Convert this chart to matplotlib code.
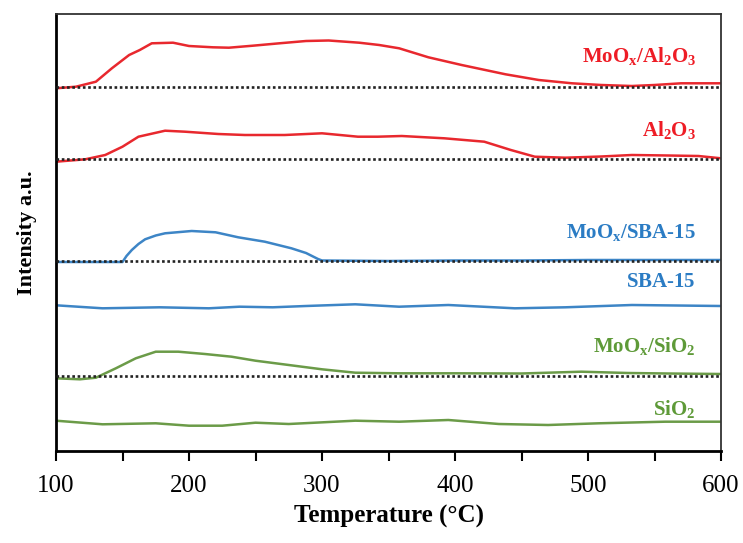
import matplotlib
matplotlib.use("Agg")
import matplotlib.pyplot as plt
from matplotlib.ticker import MultipleLocator

# === data (signal above each trace's baseline, a.u.) ===
T_mo_al = [100, 115, 130, 142, 155, 163, 172, 188, 200, 218, 230, 248, 268, 288,
           305, 328, 343, 358, 380, 405, 438, 463, 488, 510, 533, 550, 570, 600]
I_mo_al = [-1.3, 0.3, 5.3, 18.7, 32, 37, 43.7, 44.3, 41, 39.7, 39.3, 41.3, 43.7, 46,
           46.5, 44.3, 42, 38.7, 29.7, 22, 12.7, 7, 3.7, 2, 1, 2, 3.7, 3.7]

T_al = [100, 122, 137, 150, 162, 182, 197, 222, 242, 272, 300, 327, 342, 360,
        392, 422, 442, 460, 483, 510, 533, 560, 583, 600]
I_al = [-2.7, -0.3, 4, 12.3, 22.3, 28.3, 27.3, 25, 24, 24, 25.7, 22.3, 22.3, 23,
        20.7, 17.3, 9, 2.3, 1.3, 2.5, 4, 3.5, 3, 0.7]

T_mo_sba = [100, 150, 153, 157, 162, 167, 175, 182, 202, 220, 237, 257, 277, 288,
            297, 300, 350, 400, 450, 500, 550, 600]
I_mo_sba = [-1, -1, 5, 11, 17, 21.7, 25.5, 27.7, 30, 28.7, 23.7, 19.3, 12.7, 8,
            2, 0.5, 0, 0.5, 0.5, 1, 1, 1]

T_sba = [100, 135, 178, 215, 238, 263, 288, 325, 358, 395, 445, 483, 533, 600]
I_sba = [1.2, -1.8, -0.8, -1.8, -0.2, -0.8, 0.5, 2.2, -0.2, 1.5, -1.8, -0.8, 1.5, 0.5]

T_mo_si = [100, 118, 130, 145, 160, 175, 192, 212, 232, 250, 275, 300, 325, 358,
           400, 450, 495, 530, 560, 600]
I_mo_si = [-2.3, -3.3, -1.7, 7.7, 17.7, 24.3, 24.3, 22, 19.3, 15.3, 11, 6.7, 3.3, 2.7,
           2.7, 2.5, 4.3, 3, 2.5, 2]

T_si = [100, 135, 175, 200, 225, 250, 275, 325, 358, 395, 433, 470, 508, 558, 600]
I_si = [2.3, -1.3, -0.3, -2.7, -2.7, 0.3, -1, 2.3, 1.3, 3, -1, -2, -0.3, 1.3, 1.3]

labels = [r"$\mathbf{MoO_x/Al_2O_3}$", r"$\mathbf{Al_2O_3}$", r"$\mathbf{MoO_x/SBA}$-$\mathbf{15}$",
          r"$\mathbf{SBA}$-$\mathbf{15}$", r"$\mathbf{MoO_x/SiO_2}$", r"$\mathbf{SiO_2}$"]

# stacking offsets, label heights and styles
offsets = [364, 292, 190, 144.5, 75, 28]
label_y = [389, 315, 213, 164, 99, 36]
dotted = [True, True, True, False, True, False]
RED, BLUE, GREEN = "#e8282e", "#3d85c6", "#6b9b48"
line_colors = [RED, RED, BLUE, BLUE, GREEN, GREEN]
text_colors = ["#ee1c25", "#ee1c25", "#2b7cc4", "#2b7cc4", "#5e9a38", "#5e9a38"]

series = [(T_mo_al, I_mo_al), (T_al, I_al), (T_mo_sba, I_mo_sba),
          (T_sba, I_sba), (T_mo_si, I_mo_si), (T_si, I_si)]

plt.rcParams["font.family"] = ["Liberation Serif", "DejaVu Serif"]
plt.rcParams["mathtext.fontset"] = "custom"
plt.rcParams["mathtext.rm"] = "Liberation Serif"
plt.rcParams["mathtext.bf"] = "Liberation Serif:bold"

fig = plt.figure(figsize=(7.43, 5.43), dpi=100)
ax = fig.add_axes([56 / 743, 92 / 543, 665 / 743, 437 / 543])

for (T, I), off, dot, lc, tc, lab, ly in zip(series, offsets, dotted, line_colors,
                                             text_colors, labels, label_y):
    if dot:
        ax.axhline(off, color="#222222", linestyle=(0, (1, 1)), linewidth=1.9, zorder=3)
    ax.plot(T, [v + off for v in I], color=lc, linewidth=1.8, zorder=2,
            solid_joinstyle="round")
    ax.text(581, ly, lab, color=tc, fontsize=15, ha="right", va="baseline")

ax.set_xlim(100, 600)
ax.set_ylim(0, 437)
ax.set_yticks([])
ax.xaxis.set_major_locator(MultipleLocator(100))
ax.xaxis.set_minor_locator(MultipleLocator(50))
ax.tick_params(axis="x", which="both", direction="out", length=7, width=1.5,
               labelsize=18, pad=10)
for s in ["left", "bottom"]:
    ax.spines[s].set_linewidth(2)
for s in ["top", "right"]:
    ax.spines[s].set_linewidth(1.3)
    ax.spines[s].set_color("#333333")

ax.set_xlabel("Temperature (°C)", fontsize=18, fontweight="bold", labelpad=6)
ax.set_ylabel("Intensity a.u.", fontsize=16, fontweight="bold", labelpad=14)

fig.savefig("out.png", dpi=100)
